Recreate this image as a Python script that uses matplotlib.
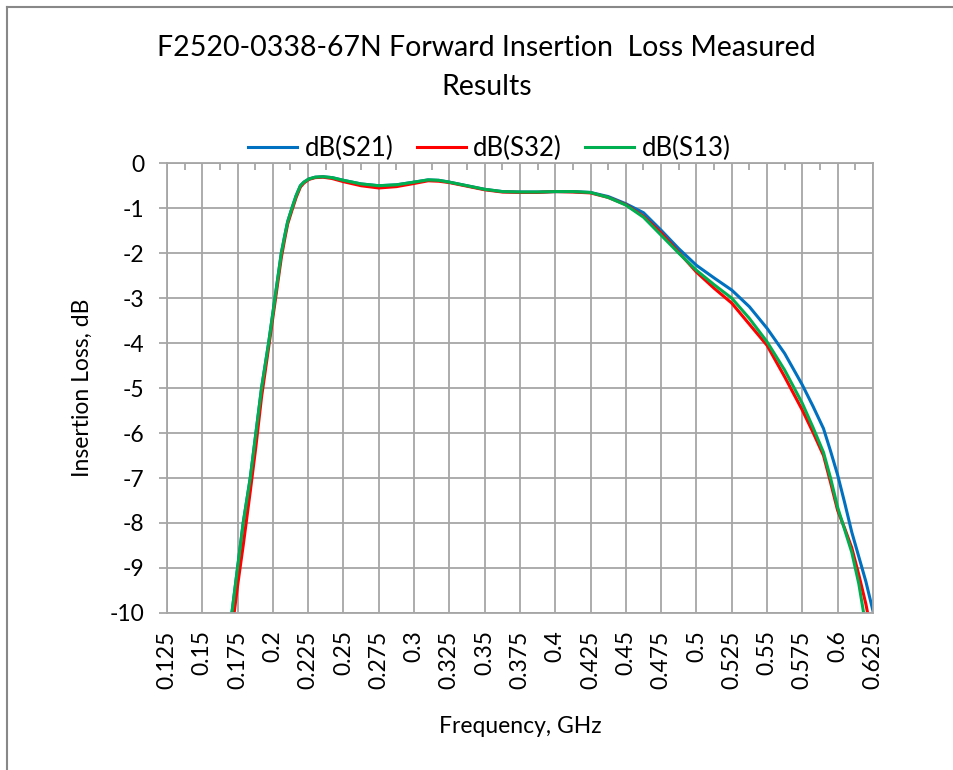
import matplotlib.pyplot as plt
from matplotlib.lines import Line2D

plt.rcParams["font.family"] = ["Lato", "DejaVu Sans"]

freq = [0.171, 0.175, 0.179, 0.184, 0.188, 0.192, 0.197, 0.2015, 0.206, 0.2085,
        0.2105, 0.2135, 0.2165, 0.2195, 0.222, 0.2255, 0.23, 0.2355, 0.242, 0.25,
        0.2625, 0.275, 0.2875, 0.3, 0.31, 0.3175, 0.325, 0.3375, 0.35, 0.3625,
        0.375, 0.3875, 0.4, 0.4125, 0.425, 0.4375, 0.45, 0.4625, 0.475, 0.4875,
        0.5, 0.5125, 0.525, 0.5375, 0.55, 0.5625, 0.575, 0.5825, 0.59, 0.595,
        0.6, 0.605, 0.61, 0.615, 0.62, 0.625]

s21 = [-10.0, -9.0, -8.0, -7.0, -6.0, -5.0, -4.0, -3.0, -2.0, -1.6,
       -1.3, -1.0, -0.72, -0.5, -0.42, -0.35, -0.31, -0.3, -0.32, -0.38,
       -0.46, -0.5, -0.48, -0.42, -0.37, -0.38, -0.42, -0.5, -0.58, -0.63,
       -0.64, -0.64, -0.63, -0.63, -0.65, -0.74, -0.9, -1.1, -1.49, -1.9,
       -2.27, -2.55, -2.82, -3.19, -3.67, -4.23, -4.93, -5.4, -5.9, -6.4,
       -6.93, -7.55, -8.2, -8.75, -9.3, -9.95]

s32 = [-10.4, -9.4, -8.5, -7.3, -6.3, -5.2, -4.1, -3.1, -2.1, -1.67,
       -1.35, -1.05, -0.76, -0.53, -0.44, -0.36, -0.32, -0.31, -0.34, -0.41,
       -0.5, -0.55, -0.52, -0.45, -0.39, -0.4, -0.43, -0.51, -0.59, -0.64,
       -0.65, -0.65, -0.63, -0.64, -0.66, -0.76, -0.92, -1.18, -1.55, -1.98,
       -2.42, -2.78, -3.11, -3.58, -4.05, -4.75, -5.49, -5.98, -6.5, -7.1,
       -7.72, -8.12, -8.55, -9.15, -9.8, -10.6]

s13 = [-10.0, -9.0, -8.0, -7.0, -6.0, -5.0, -4.0, -3.0, -2.0, -1.6,
       -1.3, -1.0, -0.72, -0.5, -0.42, -0.35, -0.31, -0.3, -0.32, -0.38,
       -0.46, -0.5, -0.48, -0.42, -0.37, -0.38, -0.42, -0.5, -0.58, -0.63,
       -0.64, -0.64, -0.63, -0.63, -0.65, -0.76, -0.93, -1.2, -1.6, -2.0,
       -2.38, -2.7, -3.0, -3.45, -3.97, -4.6, -5.34, -5.87, -6.43, -7.0,
       -7.65, -8.15, -8.65, -9.35, -10.3, -11.0]

xticks = [0.125 + 0.025 * i for i in range(21)]
xlabels = ["0.125", "0.15", "0.175", "0.2", "0.225", "0.25", "0.275", "0.3", "0.325",
           "0.35", "0.375", "0.4", "0.425", "0.45", "0.475", "0.5", "0.525", "0.55",
           "0.575", "0.6", "0.625"]
yticks = list(range(-10, 1))

GRID = "#a6a6a6"

fig = plt.figure(figsize=(9.54, 7.70), dpi=100)
ax = fig.add_axes([0.175, 0.204, 0.740, 0.584])

ax.plot(freq, s21, color="#0070c0", lw=2.2, label="dB(S21)")
ax.plot(freq, s32, color="#ff0000", lw=2.2, label="dB(S32)")
ax.plot(freq, s13, color="#00b050", lw=2.2, label="dB(S13)")

ax.set_xlim(0.125, 0.625)
ax.set_ylim(-10, 0)
ax.set_xticks(xticks)
ax.set_xticklabels(xlabels, rotation=90, fontsize=16.5)
ax.set_yticks(yticks)
ax.set_yticklabels([str(v) for v in yticks], fontsize=16.5)
ax.grid(True, color=GRID, lw=1.3)
for s in ax.spines.values():
    s.set_color(GRID)
    s.set_linewidth(1.3)

# x axis sits at the top (y=0) with small inward ticks; labels stay at the bottom
ax.tick_params(axis="x", bottom=False, top=False, pad=9)
ax.tick_params(axis="y", direction="out", length=6, width=1.3, color=GRID, pad=10)
ax.set_xticks([0.125 + 0.0125 * i for i in range(41)], minor=True)
ax.tick_params(axis="x", which="minor", top=True, bottom=False, direction="in",
               length=5, width=1.3, color=GRID)

ax.set_xlabel("Frequency, GHz", fontsize=16.5, labelpad=20)
ax.set_ylabel("Insertion Loss, dB", fontsize=16.5, labelpad=12)

fig.text(0.51, 0.912, "F2520-0338-67N Forward Insertion  Loss Measured\nResults",
         ha="center", va="center", fontsize=20.5, linespacing=1.6)

handles = [Line2D([], [], color=l.get_color(), lw=2.2) for l in ax.get_lines()]
fig.legend(handles, [l.get_label() for l in ax.get_lines()], loc="center",
           bbox_to_anchor=(0.513, 0.807), ncol=3, frameon=False, fontsize=18.5,
           handlelength=1.9, columnspacing=0.9, handletextpad=0.3)

# chart-area border (only left/top visible in the original)
fig.add_artist(Line2D([7 / 954, 7 / 954], [0, 1 - 7 / 770], color="#888888", lw=1.5))
fig.add_artist(Line2D([7 / 954, 1], [1 - 7 / 770, 1 - 7 / 770], color="#888888", lw=1.5))

fig.savefig("out.png", dpi=100)
